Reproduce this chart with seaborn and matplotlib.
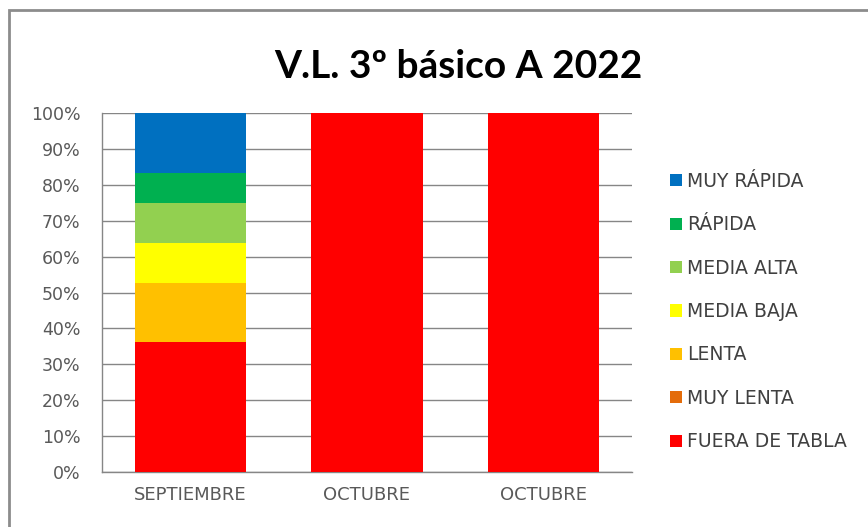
import matplotlib
matplotlib.use("Agg")
import matplotlib.pyplot as plt
import seaborn as sns
import numpy as np
from matplotlib.patches import Rectangle, Patch

categories = ["SEPTIEMBRE", "OCTUBRE", "OCTUBRE"]
series_names = ["FUERA DE TABLA", "MUY LENTA", "LENTA", "MEDIA BAJA", "MEDIA ALTA", "RÁPIDA", "MUY RÁPIDA"]
fuera_de_tabla = [13, 1, 1]
muy_lenta = [0, 0, 0]
lenta = [6, 0, 0]
media_baja = [4, 0, 0]
media_alta = [4, 0, 0]
rapida = [3, 0, 0]
muy_rapida = [6, 0, 0]
colors = ["#FF0000", "#E46C0A", "#FFC000", "#FFFF00", "#92D050", "#00B050", "#0070C0"]
title = "V.L. 3º básico A 2022"

sns.set_theme(style="white")
plt.rcParams["font.family"] = ["DejaVu Sans"]

data = np.array([fuera_de_tabla, muy_lenta, lenta, media_baja, media_alta, rapida, muy_rapida], dtype=float)
pct = data / data.sum(axis=0) * 100
cum = np.cumsum(pct, axis=0)

fig = plt.figure(figsize=(8.68, 5.27), dpi=100)
fig.patch.set_facecolor("white")
ax = fig.add_axes([102/868, 55/527, 530/868, 359/527])

x = list(range(len(categories)))
for i in range(len(series_names) - 1, -1, -1):
    sns.barplot(x=x, y=cum[i], color=colors[i], width=0.63, saturation=1,
                linewidth=0, ax=ax, zorder=3)

ax.set_ylim(0, 100)
ax.set_xlim(-0.5, 2.5)
ax.set_yticks(np.arange(0, 101, 10))
ax.set_yticklabels([f"{v}%" for v in range(0, 101, 10)], fontsize=12.5, color="#595959")
ax.set_xticks(x)
ax.set_xticklabels(categories, fontsize=13, color="#595959")
ax.tick_params(axis="y", length=0, pad=15.5)
ax.tick_params(axis="x", length=0, pad=10)
ax.set_xlabel("")
ax.set_ylabel("")
ax.yaxis.grid(True, color="#868686", linewidth=1)
ax.set_axisbelow(True)
for s in ["top", "right"]:
    ax.spines[s].set_visible(False)
for s in ["left", "bottom"]:
    ax.spines[s].set_color("#868686")
    ax.spines[s].set_linewidth(1)

fig.text(458/868, 1 - 66/527, title, ha="center", va="center",
         fontsize=28, fontweight="bold", color="black", family=["Lato", "DejaVu Sans"])

handles = [Patch(facecolor=colors[i], edgecolor="none", label=series_names[i])
           for i in range(len(series_names) - 1, -1, -1)]
leg = fig.legend(handles=handles, loc="upper left", bbox_to_anchor=(670/868, 1 - 172/527),
                 frameon=False, fontsize=13.5, handlelength=0.62, handleheight=0.62,
                 handletextpad=0.3, labelspacing=1.3, borderaxespad=0, borderpad=0)
for t in leg.get_texts():
    t.set_color("#404040")

fig.add_artist(Rectangle((9/868, -0.05), 1.2, 1 - 10/527 + 0.05, transform=fig.transFigure,
                         fill=False, edgecolor="#8c8c8c", linewidth=2))

fig.savefig("out.png", dpi=100)
